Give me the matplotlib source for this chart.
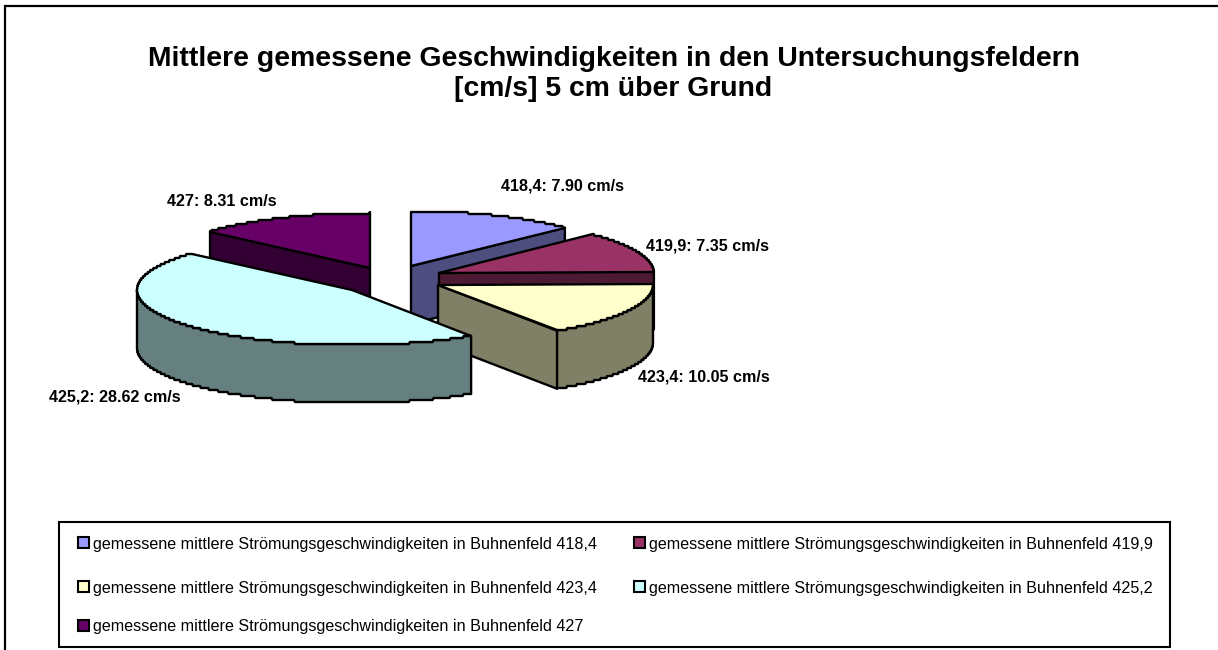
import numpy as np
import matplotlib
matplotlib.use("Agg")
import matplotlib.pyplot as plt
from matplotlib.patches import Polygon, Rectangle

plt.rcParams['font.family'] = ['Liberation Sans', 'DejaVu Sans']

# data
felder = ['418,4', '419,9', '423,4', '425,2', '427']
werte = [7.90, 7.35, 10.05, 28.62, 8.31]
farben = ['#9999FF', '#993366', '#FFFFCC', '#CCFFFF', '#660066']
seiten = ['#4D4D80', '#4D1A33', '#808066', '#668080', '#330033']
title = 'Mittlere gemessene Geschwindigkeiten in den Untersuchungsfeldern\n[cm/s] 5 cm über Grund'

# layout, pixels of the picture
mitten = [(411, 266), (439, 273), (438, 285), (352, 290), (370, 268)]
label_pos = [(501, 186), (646, 246), (638, 377), (49, 397), (167, 201)]
legend_pos = [(78, 543), (634, 543), (78, 587), (634, 587), (78, 626)]
rx, ry, tiefe = 215, 55, 58
lw = 1.7
stufe = 2  # the arcs of the original are drawn in small steps

fig = plt.figure(figsize=(12.18, 6.5), dpi=100)
ax = fig.add_axes([0, 0, 1, 1])
ax.set_xlim(0, 1218)
ax.set_ylim(650, 0)
ax.axis('off')


def punkt(m, grad):
    # angle clockwise from the top of the ellipse
    a = np.radians(grad)
    return m[0] + rx * np.sin(a), m[1] - ry * np.cos(a)


def bogen(m, a0, a1, n):
    px, py = punkt(m, np.linspace(a0, a1, n))
    return px, np.round(py / stufe) * stufe


def flaeche(xs, ys, farbe, z):
    ax.add_patch(Polygon(np.column_stack([xs, ys]), closed=True, facecolor=farbe,
                         edgecolor='black', linewidth=lw, joinstyle='round', zorder=z))


# outer frame: only left and top are inside the picture
ax.plot([5, 5, 1218], [650, 6, 6], color='black', linewidth=1.6, solid_joinstyle='miter')

grenzen = np.concatenate([[0], np.cumsum(werte) / np.sum(werte) * 360])
# back to front
for z, i in enumerate([4, 0, 1, 2, 3]):
    m = mitten[i]
    a0, a1 = grenzen[i], grenzen[i + 1]
    # radial side faces
    for grad, sichtbar in ((a1, a1 < 180), (a0, a0 > 180)):
        if sichtbar:
            px, py = punkt(m, grad)
            flaeche([m[0], px, px, m[0]], [m[1], py, py + tiefe, m[1] + tiefe], seiten[i], z * 3 + 10)
    # outer rim, the part that faces the viewer
    r0, r1 = max(a0, 90), min(a1, 270)
    if r1 > r0:
        n = int((r1 - r0) * 3) + 2
        px, py = bogen(m, r0, r1, n)
        flaeche(np.r_[px, px[::-1]], np.r_[py, py[::-1] + tiefe], seiten[i], z * 3 + 11)
    # top
    px, py = bogen(m, a0, a1, int((a1 - a0) * 3) + 2)
    flaeche(np.r_[m[0], px], np.r_[m[1], py], farben[i], z * 3 + 12)

ax.text(613.5, 74, title, ha='center', va='center', fontsize=20.4, fontweight='bold',
        linespacing=1.2, color='black')

for f, w, p in zip(felder, werte, label_pos):
    ax.text(p[0], p[1], f'{f}: {w:.2f} cm/s', ha='left', va='center', fontsize=11.6,
            fontweight='bold', color='black', zorder=40)

# legend
ax.add_patch(Rectangle((59, 522), 1111, 125, facecolor='white', edgecolor='black', linewidth=1.5))
for f, c, p in zip(felder, farben, legend_pos):
    ax.add_patch(Rectangle((p[0], p[1] - 6), 11, 11, facecolor=c, edgecolor='black', linewidth=1.5, zorder=5))
    ax.text(p[0] + 15, p[1] + 1, f'gemessene mittlere Strömungsgeschwindigkeiten in Buhnenfeld {f}',
            ha='left', va='center', fontsize=11.6, color='black', zorder=5)

fig.savefig('out.png', dpi=100)
